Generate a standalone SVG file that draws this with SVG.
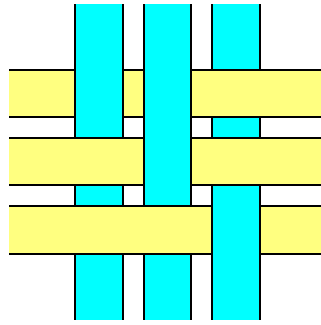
<svg xmlns="http://www.w3.org/2000/svg" width="321" height="325" viewBox="0 0 321 325">
<style>
.v{fill:#00FFFF}
.h{fill:#FFFF80}
.e{stroke:#000;stroke-width:2;fill:none}
</style>
<rect width="321" height="325" fill="#fff"/>
<g id="strip-v1"><rect class="v" x="75" y="4" width="48" height="316"/><path class="e" d="M75 4V320M123 4V320"/></g>
<g id="strip-v2"><rect class="v" x="144" y="4" width="47" height="316"/><path class="e" d="M144 4V320M191 4V320"/></g>
<g id="strip-v3"><rect class="v" x="212" y="4" width="48" height="316"/><path class="e" d="M212 4V320M260 4V320"/></g>
<g id="strip-h1"><rect class="h" x="9" y="70" width="312" height="47"/><path class="e" d="M9 70H321M9 117H321"/></g>
<g id="strip-h2"><rect class="h" x="9" y="138" width="312" height="47"/><path class="e" d="M9 138H321M9 185H321"/></g>
<g id="strip-h3"><rect class="h" x="9" y="206" width="312" height="48"/><path class="e" d="M9 206H321M9 254H321"/></g>
<g id="crossings">
<rect class="v" x="75" y="68" width="48" height="51"/><path class="e" d="M75 68V119M123 68V119"/>
<rect class="v" x="144" y="68" width="47" height="51"/><path class="e" d="M144 68V119M191 68V119"/>
<rect class="v" x="144" y="136" width="47" height="51"/><path class="e" d="M144 136V187M191 136V187"/>
<rect class="v" x="212" y="204" width="48" height="52"/><path class="e" d="M212 204V256M260 204V256"/>
</g>
</svg>
